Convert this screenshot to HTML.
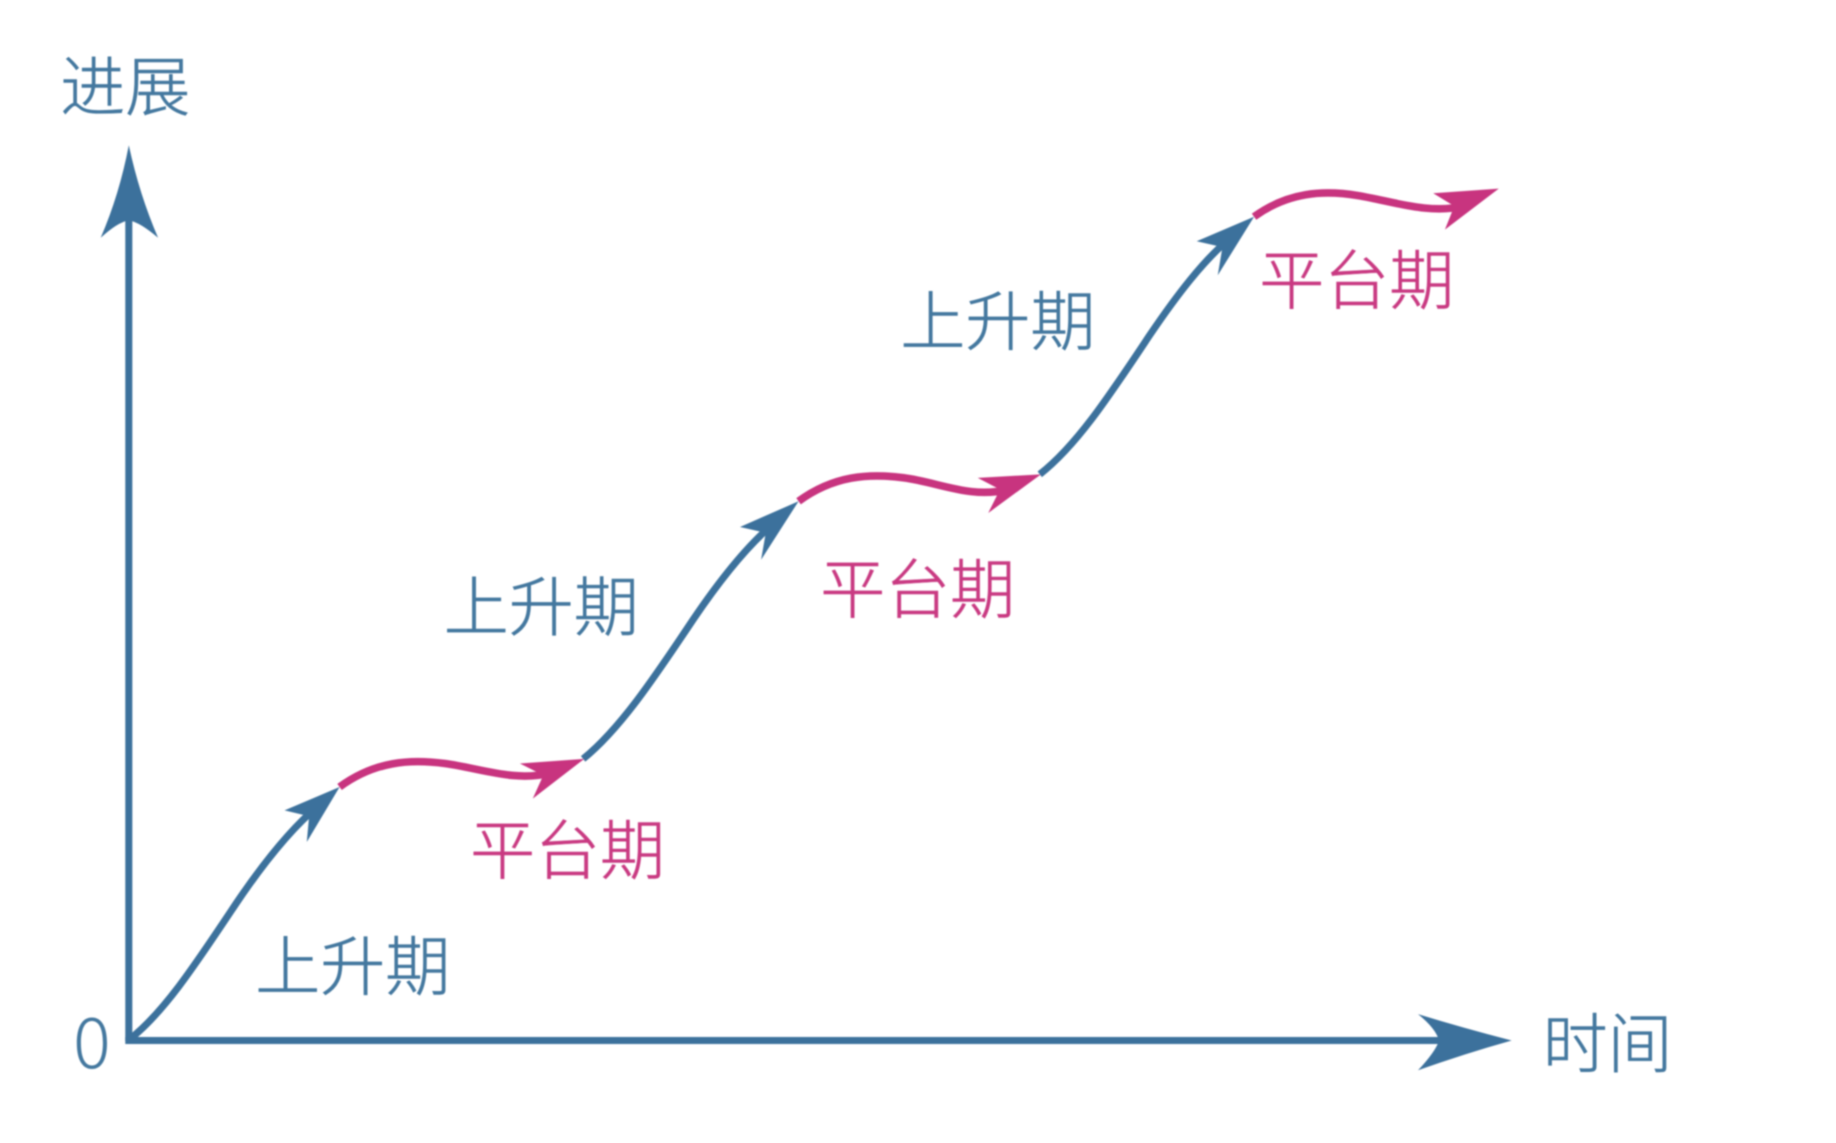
<!DOCTYPE html>
<html>
<head>
<meta charset="utf-8">
<style>
html,body{margin:0;padding:0;background:#fff;width:1836px;height:1143px;overflow:hidden}
svg{display:block}
.s{filter:blur(0.7px)}
text{font-family:"Liberation Sans","Noto Sans CJK SC","WenQuanYi Zen Hei",sans-serif;font-size:55.5px;font-weight:300;stroke-width:.5px}
.b{fill:#44789f;stroke:#44789f}
.p{fill:#c93a82;stroke:#c93a82}
</style>
</head>
<body>
<svg xmlns="http://www.w3.org/2000/svg" width="1836" height="1143" viewBox="0 0 1568 976">
<rect width="1568" height="976" fill="#fff"/>
<g class="s">
<g fill="none" stroke="#3c719c" stroke-width="6">
<path d="M110 889V175"/>
<path d="M107 888.500H1240"/>
<path d="M110 888C140 865 168 822 202 771C225 737 248 708 272 688"/>
<path d="M498 648C529 623 558 580 592 529C615 495 639 465 662 446"/>
<path d="M888 405C920 380 948 337 982 286C1005 252 1028 222 1051 203"/>
</g>
<g fill="#3c719c">
<path d="M110 124Q119 166 135 203Q120 190 110 188Q100 190 86 203Q102 166 110 124Z"/>
<path d="M1291 888.500Q1250 900 1211 914Q1226 898 1229 888.500Q1226 878 1211 866Q1250 878 1291 888.500Z"/>
<path d="M290 672L243 692L264 697L262 719Z"/>
<path d="M682 428L632 450L654 455L650 478Z"/>
<path d="M1071 185L1022 206L1044 211L1040 235Z"/>
</g>
<g fill="none" stroke="#c8347f" stroke-width="6.500">
<path d="M290 672C320 650 350 648 380 652S440 668 470 660"/>
<path d="M682 428C712 406 742 404 772 408S830 426 860 418"/>
<path d="M1071 185C1100 164 1130 162 1160 167S1220 183 1250 176"/>
</g>
<g fill="#c8347f">
<path d="M499 648L444 652L464 662L455 682Z"/>
<path d="M889 405L835 408L854 418L844 438Z"/>
<path d="M1280 161L1224 165L1242 176L1234 196Z"/>
</g>
<text class="b" x="51.500" y="94">进展</text>
<text class="b" x="1317.500" y="911">时间</text>
<text x="62.500" y="912" style="font-family:'Noto Sans CJK SC',sans-serif;font-size:60px;fill:#44789f;stroke:none">0</text>
<text class="b" x="218" y="845">上升期</text>
<text class="b" x="379" y="538">上升期</text>
<text class="b" x="769" y="294">上升期</text>
<text class="p" x="401.500" y="746">平台期</text>
<text class="p" x="700.500" y="523">平台期</text>
<text class="p" x="1075.500" y="259">平台期</text>
</g>
</svg>
</body>
</html>
